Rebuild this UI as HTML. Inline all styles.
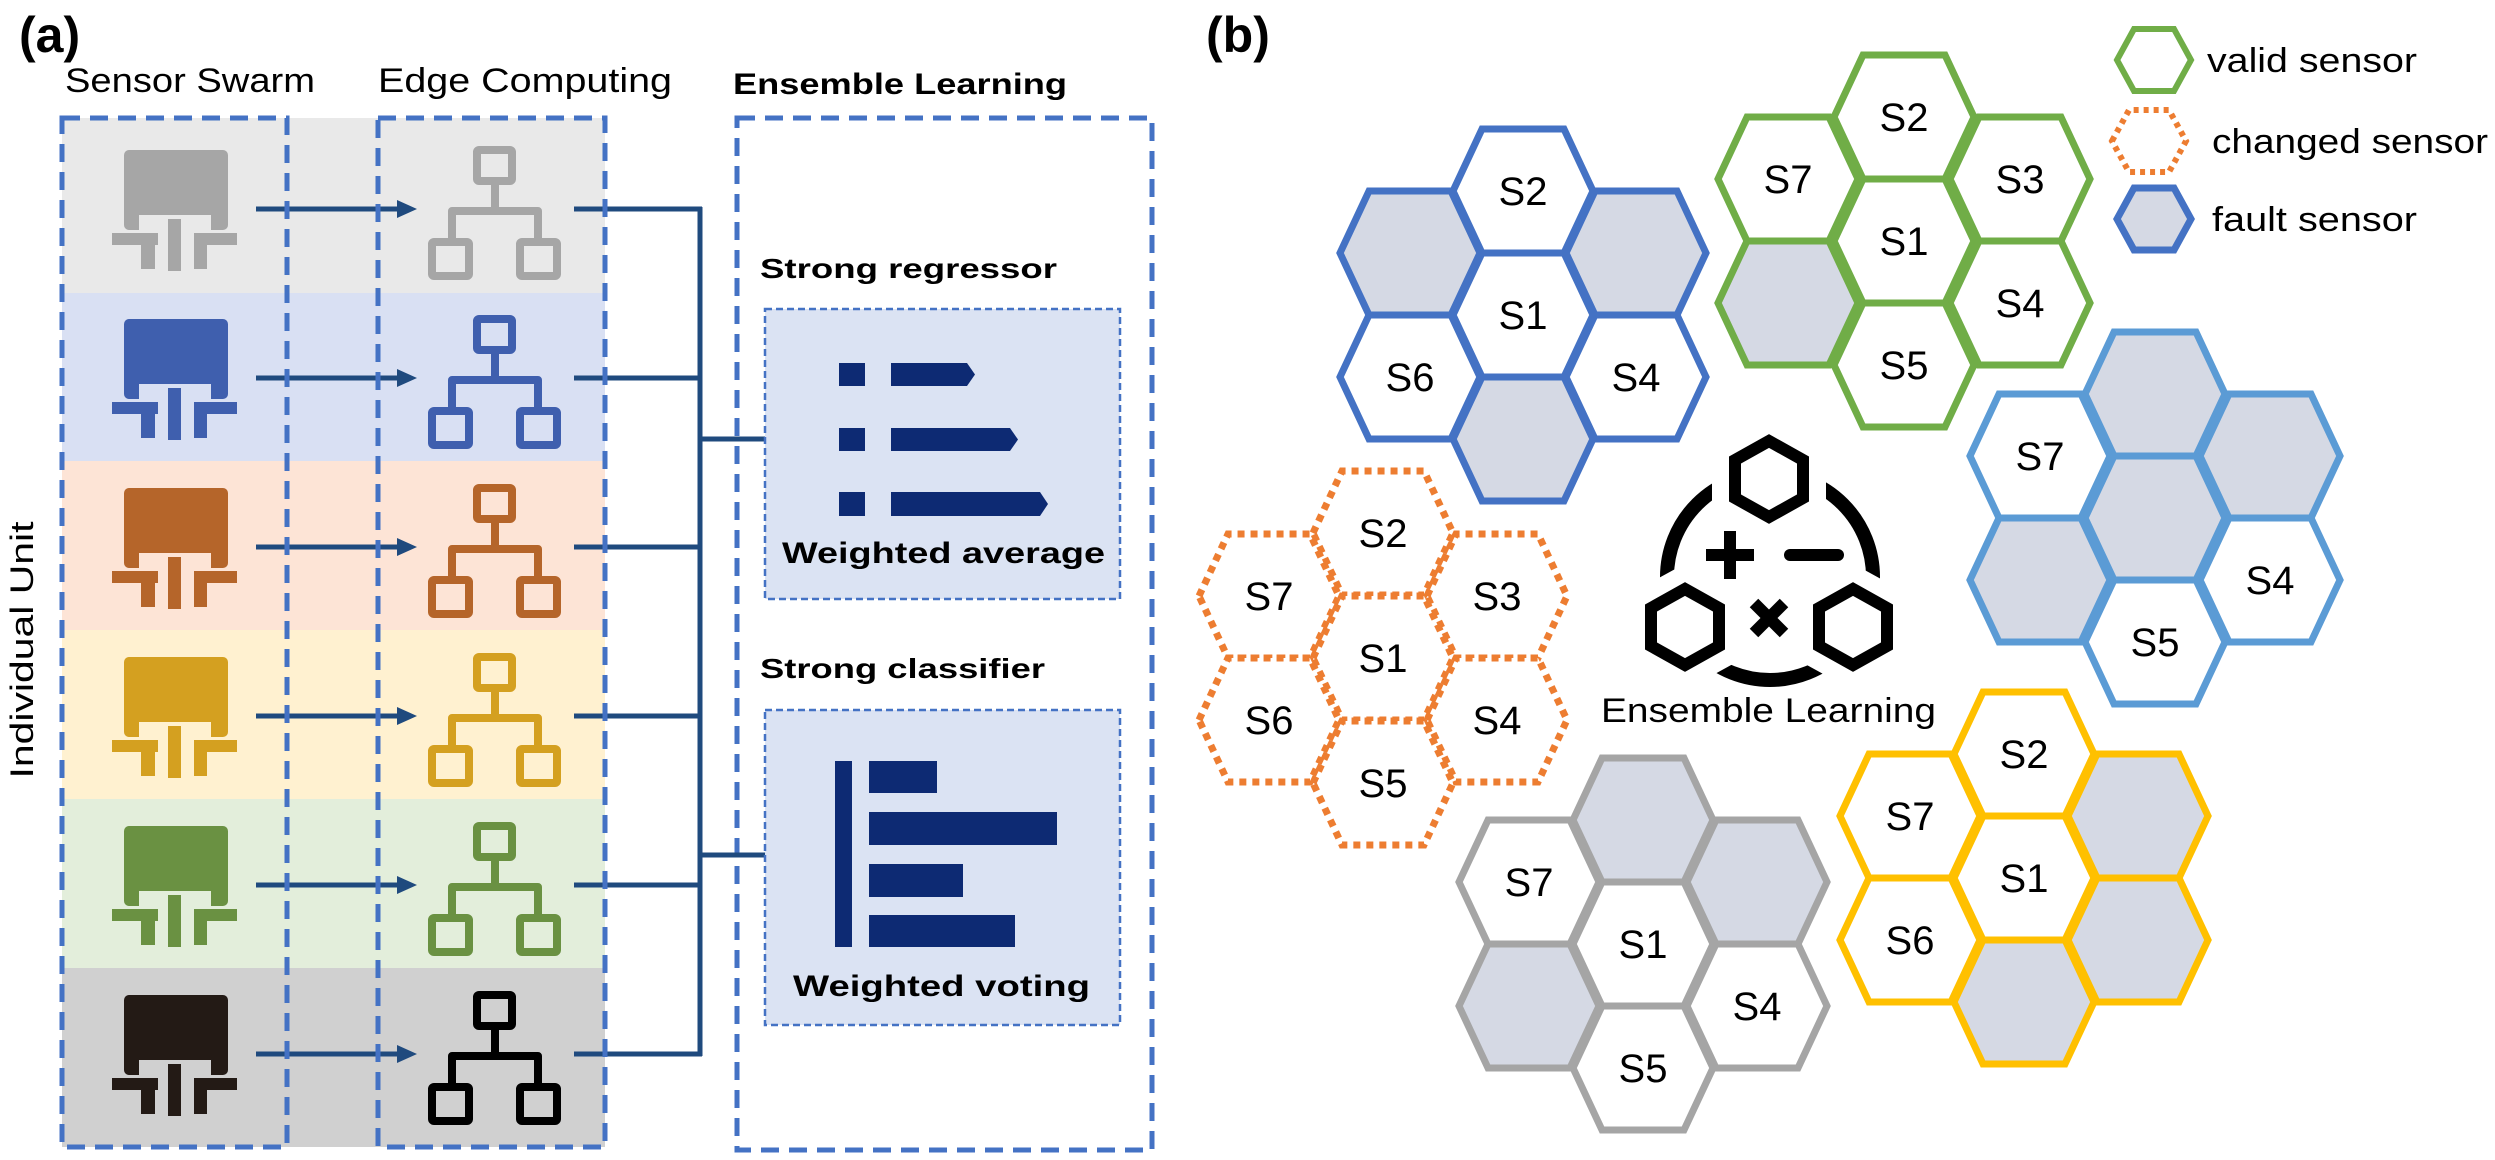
<!DOCTYPE html>
<html><head><meta charset="utf-8">
<style>html,body{margin:0;padding:0;background:#fff}svg{display:block}</style>
</head><body>
<svg id="s" width="2495" height="1160" viewBox="0 0 2495 1160" xmlns="http://www.w3.org/2000/svg" font-family="Liberation Sans, sans-serif">
<rect width="2495" height="1160" fill="#fff"/>
<g id="rows"></g>
<g fill="none" stroke="#4472c4" stroke-width="5" stroke-dasharray="18 10">
<rect x="62" y="118" width="225" height="1029"/>
<rect x="378" y="118" width="227" height="1029"/>
<rect x="737" y="118" width="415" height="1032"/>
</g>
<text x="19" y="52" font-size="50" font-weight="bold">(a)</text>
<text x="1206" y="52" font-size="50" font-weight="bold">(b)</text>
<text x="65" y="92" font-size="34" textLength="250" lengthAdjust="spacingAndGlyphs">Sensor Swarm</text>
<text x="378" y="92" font-size="34" textLength="294" lengthAdjust="spacingAndGlyphs">Edge Computing</text>
<text x="733" y="94" font-size="30" font-weight="bold" textLength="334" lengthAdjust="spacingAndGlyphs">Ensemble Learning</text>
<text transform="translate(33,650) rotate(-90)" font-size="32" text-anchor="middle" textLength="257" lengthAdjust="spacingAndGlyphs">Individual Unit</text>
<g stroke="#1f4a7e" stroke-width="5" fill="none">
<line x1="700" y1="207" x2="700" y2="1056"/>
<line x1="700" y1="439" x2="810" y2="439"/>
<line x1="700" y1="855" x2="810" y2="855"/>
</g>
<g fill="#1f4a7e">
<polygon points="826,439 806,430 806,448"/>
<polygon points="826,855 806,846 806,864"/>
</g>
<g fill="#dbe3f3" stroke="#4472c4" stroke-width="2.5" stroke-dasharray="7 4">
<rect x="765" y="309" width="355" height="290"/>
<rect x="765" y="710" width="355" height="315"/>
</g>
<text x="760" y="278" font-size="28" font-weight="bold" textLength="297" lengthAdjust="spacingAndGlyphs">Strong regressor</text>
<text x="782" y="563" font-size="30" font-weight="bold" textLength="323" lengthAdjust="spacingAndGlyphs">Weighted average</text>
<text x="760" y="678" font-size="28" font-weight="bold" textLength="285" lengthAdjust="spacingAndGlyphs">Strong classifier</text>
<text x="793" y="996" font-size="30" font-weight="bold" textLength="297" lengthAdjust="spacingAndGlyphs">Weighted voting</text>
<g fill="#0d2a73">
<rect x="839" y="363" width="26" height="23"/><rect x="839" y="428" width="26" height="23"/><rect x="839" y="492" width="26" height="24"/>
<polygon points="891,363 967,363 975,374.5 967,386 891,386"/>
<polygon points="891,428 1010,428 1018,439.5 1010,451 891,451"/>
<polygon points="891,492 1040,492 1048,504 1040,516 891,516"/>
<rect x="835" y="761" width="17" height="186"/>
<rect x="869" y="761" width="68" height="32"/>
<rect x="869" y="812" width="188" height="33"/>
<rect x="869" y="864" width="94" height="33"/>
<rect x="869" y="915" width="146" height="32"/>
</g>
<g id="hexes"></g>
<g>
<circle cx="1770" cy="577" r="103" fill="none" stroke="#000" stroke-width="14"/>
<g id="ico"></g>
<g stroke="#000" stroke-width="12" fill="none" stroke-linecap="butt">
<line x1="1706" y1="555" x2="1754" y2="555"/><line x1="1730" y1="531" x2="1730" y2="579"/>
<line x1="1790" y1="555" x2="1838" y2="555" stroke-linecap="round"/>
<line x1="1754" y1="603" x2="1784" y2="633"/><line x1="1784" y1="603" x2="1754" y2="633"/>
</g>
<text x="1601" y="722" font-size="34" textLength="335" lengthAdjust="spacingAndGlyphs">Ensemble Learning</text>
</g>
<text x="2207" y="72" font-size="34" textLength="210" lengthAdjust="spacingAndGlyphs">valid sensor</text>
<text x="2212" y="153" font-size="34" textLength="276" lengthAdjust="spacingAndGlyphs">changed sensor</text>
<text x="2212" y="231" font-size="34" textLength="205" lengthAdjust="spacingAndGlyphs">fault sensor</text>
<g font-size="40" text-anchor="middle">
<text x="1523" y="205">S2</text><text x="1523" y="329">S1</text><text x="1410" y="391">S6</text><text x="1636" y="391">S4</text>
<text x="1904" y="131">S2</text><text x="1788" y="193">S7</text><text x="2020" y="193">S3</text><text x="1904" y="255">S1</text><text x="2020" y="317">S4</text><text x="1904" y="379">S5</text>
<text x="2040" y="470">S7</text><text x="2270" y="594">S4</text><text x="2155" y="656">S5</text>
<text x="1383" y="547">S2</text><text x="1269" y="610">S7</text><text x="1497" y="610">S3</text><text x="1383" y="672">S1</text><text x="1269" y="734">S6</text><text x="1497" y="734">S4</text><text x="1383" y="797">S5</text>
<text x="1529" y="896">S7</text><text x="1643" y="958">S1</text><text x="1757" y="1020">S4</text><text x="1643" y="1082">S5</text>
<text x="2024" y="768">S2</text><text x="1910" y="830">S7</text><text x="2024" y="892">S1</text><text x="1910" y="954">S6</text>
</g>
</svg>
<script>
var NS="http://www.w3.org/2000/svg";
function el(p,t,a){var e=document.createElementNS(NS,t);for(var k in a)e.setAttribute(k,a[k]);p.appendChild(e);return e;}
var rows=document.getElementById('rows');
var bg=['#e9e9e9','#d9e0f3','#fde4d6','#fff1d0','#e3eedb','#d0d0d0'];
var ic=['#a6a6a6','#3f5fae','#b5652a','#d4a020','#6a9142','#231a15'];
var nc=['#a6a6a6','#3f5fae','#b5652a','#d4a020','#6a9142','#000000'];
var tops=[118,293,461,630,799,968,1147];
for(var i=0;i<6;i++){
 var C=209+169*i;
 el(rows,'rect',{x:62,y:tops[i],width:543,height:tops[i+1]-tops[i],fill:bg[i]});
 var c=ic[i];
 el(rows,'rect',{x:124,y:C-59,width:104,height:80,rx:5,fill:c});
 el(rows,'rect',{x:139,y:C+6,width:72,height:18,fill:bg[i]});
 el(rows,'rect',{x:112,y:C+24,width:46,height:12,fill:c});
 el(rows,'rect',{x:141,y:C+24,width:14,height:36,fill:c});
 el(rows,'rect',{x:168,y:C+10,width:13,height:52,fill:c});
 el(rows,'rect',{x:194,y:C+24,width:43,height:12,fill:c});
 el(rows,'rect',{x:194,y:C+24,width:13,height:36,fill:c});
 el(rows,'line',{x1:256,y1:C,x2:400,y2:C,stroke:'#1f4a7e','stroke-width':5});
 el(rows,'polygon',{points:'417,'+C+' 397,'+(C-9)+' 397,'+(C+9),fill:'#1f4a7e'});
 var n=nc[i],g=el(rows,'g',{fill:'none',stroke:n,'stroke-width':8,'stroke-linejoin':'round'});
 el(g,'rect',{x:477,y:C-59,width:35,height:31,rx:2});
 el(g,'line',{x1:495,y1:C-28,x2:495,y2:C+2});
 el(g,'polyline',{points:'452,'+(C+33)+' 452,'+(C+2)+' 538,'+(C+2)+' 538,'+(C+33)});
 el(g,'rect',{x:432,y:C+33,width:37,height:34,rx:2});
 el(g,'rect',{x:520,y:C+33,width:37,height:34,rx:2});
 el(rows,'line',{x1:574,y1:C,x2:702,y2:C,stroke:'#1f4a7e','stroke-width':5});
}
var H=document.getElementById('hexes');
function hex(cx,cy,a,b,c,col,fill,sw,dash){
 var p=[[cx-a,cy],[cx-c,cy-b],[cx+c,cy-b],[cx+a,cy],[cx+c,cy+b],[cx-c,cy+b]].map(function(q){return q.join(',')}).join(' ');
 var at={points:p,fill:fill,stroke:col,'stroke-width':sw,'stroke-linejoin':'miter'};
 if(dash)at['stroke-dasharray']=dash;
 el(H,'polygon',at);
}
var G='#d5d9e4',W='#ffffff';
var clusters=[
 ['#4472c4',null,[[1523,191,W],[1410,253,G],[1636,253,G],[1523,315,W],[1410,377,W],[1636,377,W],[1523,439,G]]],
 ['#70ad47',null,[[1904,117,W],[1788,179,W],[2020,179,W],[1904,241,W],[1788,303,G],[2020,303,W],[1904,365,W]]],
 ['#5b9bd5',null,[[2155,394,G],[2040,456,W],[2270,456,G],[2155,518,G],[2040,580,G],[2270,580,W],[2155,642,W]]],
 ['#ed7d31','7 6',[[1383,533,W],[1269,596,W],[1497,596,W],[1383,658,W],[1269,720,W],[1497,720,W],[1383,783,W]]],
 ['#a5a5a5',null,[[1643,820,G],[1529,882,W],[1757,882,G],[1643,944,W],[1529,1006,G],[1757,1006,W],[1643,1068,W]]],
 ['#ffc000',null,[[2024,754,W],[1910,816,W],[2138,816,G],[2024,878,W],[1910,940,W],[2138,940,G],[2024,1002,G]]]
];
clusters.forEach(function(cl){cl[2].forEach(function(h){hex(h[0],h[1],70,62,41,cl[0],h[2],7,cl[1]);});});
hex(2154,60,37,31,20,'#70ad47',W,6);
hex(2149,141,37,31,20,'#ed7d31',W,6,'5 5');
hex(2154,219,37,31,20,'#4472c4',G,7);
var I=document.getElementById('ico');
function phex(cx,cy,w,h){return [[cx,cy-h],[cx+w,cy-h/2],[cx+w,cy+h/2],[cx,cy+h],[cx-w,cy+h/2],[cx-w,cy-h/2]].map(function(q){return q.join(',')}).join(' ');}
[[1769,479],[1685,627],[1853,627]].forEach(function(q){
 el(I,'polygon',{points:phex(q[0],q[1],40,44),fill:'#fff',stroke:'#fff','stroke-width':34,'stroke-linejoin':'round'});
 el(I,'polygon',{points:phex(q[0],q[1],34,38),fill:'#fff',stroke:'#000','stroke-width':12});
});
</script>
</body></html>
